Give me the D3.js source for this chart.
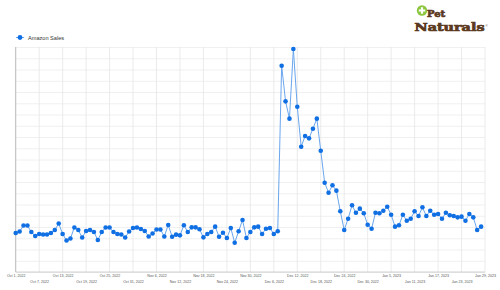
<!DOCTYPE html>
<html>
<head>
<meta charset="utf-8">
<script src="https://cdn.jsdelivr.net/npm/d3@7"></script>
<style>
  body { margin: 0; background: #fff; }
  svg { display: block; font-family: "Liberation Sans", Arial, sans-serif; }
</style>
</head>
<body>
<div id="chart"></div>
<script>
// Daily Amazon sales, Oct 1, 2022 onward (one value per day)
const startDate = "2022-10-01";
const amazonSales = [
    347, 360, 413, 413, 356, 320, 338, 333, 333, 347,
    373, 431, 338, 280, 298, 396, 373, 307, 364, 373,
    356, 284, 356, 396, 396, 356, 338, 333, 307, 360,
    391, 396, 382, 364, 316, 342, 378, 378, 316, 418,
    314, 332, 326, 415, 356, 397, 397, 380, 308, 338,
    356, 403, 314, 349, 302, 391, 260, 362, 462, 302,
    356, 397, 403, 338, 385, 391, 338, 362, 1834, 1517,
    1363, 1982, 1469, 1114, 1209, 1188, 1274, 1363, 1078, 794,
    705, 771, 723, 540, 373, 474, 593, 527, 563, 522,
    420, 385, 527, 522, 545, 580, 509, 403, 415, 509,
    456, 474, 540, 498, 575, 498, 545, 509, 516, 474,
    527, 504, 498, 486, 492, 456, 516, 486, 373, 403
];

// x-axis labels, every 6 days
const tickLabels = [
    "Oct 1, 2022", "Oct 7, 2022", "Oct 13, 2022", "Oct 19, 2022", "Oct 25, 2022",
    "Oct 31, 2022", "Nov 6, 2022", "Nov 12, 2022", "Nov 18, 2022", "Nov 24, 2022",
    "Nov 30, 2022", "Dec 6, 2022", "Dec 12, 2022", "Dec 18, 2022", "Dec 24, 2022",
    "Dec 30, 2022", "Jan 5, 2023", "Jan 11, 2023", "Jan 17, 2023", "Jan 23, 2023",
    "Jan 29, 2023"
];

const seriesName = "Amazon Sales";

function drawChart() {
    const totalWidth = 500;
    const totalHeight = 290;
    const margin = { top: 47, right: 15, bottom: 18, left: 15.7 };
    const width = totalWidth - margin.left - margin.right;
    const height = totalHeight - margin.top - margin.bottom;

    const svg = d3.select("#chart")
        .append("svg")
        .attr("width", totalWidth)
        .attr("height", totalHeight);

    const g = svg.append("g")
        .attr("transform", `translate(${margin.left},${margin.top})`);

    const parseLabel = d3.utcParse("%b %-d, %Y");
    const tickDates = tickLabels.map(parseLabel);
    const start = d3.utcParse("%Y-%m-%d")(startDate);

    const data = amazonSales.map((v, i) => ({ date: d3.utcDay.offset(start, i), value: v }));

    // Scales
    const x = d3.scaleUtc()
        .domain([tickDates[0], tickDates[tickDates.length - 1]])
        .range([0, width]);

    const y = d3.scaleLinear()
        .domain([0, 2000])
        .range([height, 0]);

    // Horizontal gridlines
    g.append("g")
        .selectAll("line")
        .data(y.ticks(20))
        .join("line")
        .attr("x1", 0)
        .attr("x2", width)
        .attr("y1", d => y(d) + 0.5)
        .attr("y2", d => y(d) + 0.5)
        .style("stroke", "#ececec")
        .style("stroke-width", 0.8);

    // Vertical gridlines
    g.append("g")
        .selectAll("line")
        .data(tickDates)
        .join("line")
        .attr("x1", d => x(d))
        .attr("x2", d => x(d))
        .attr("y1", 0)
        .attr("y2", height)
        .style("stroke", "#e6e6e6")
        .style("stroke-width", 0.8);

    // Left and bottom axis lines
    g.append("line")
        .attr("x1", 0).attr("x2", 0)
        .attr("y1", 0).attr("y2", height)
        .style("stroke", "#b0b0b0")
        .style("stroke-width", 0.8);

    g.append("line")
        .attr("x1", 0).attr("x2", width)
        .attr("y1", height).attr("y2", height)
        .style("stroke", "#c4c4c4")
        .style("stroke-width", 0.8);

    // X labels, staggered on two rows
    const xAxis = d3.axisBottom(x)
        .tickValues(tickDates)
        .tickSize(0)
        .tickFormat((d, i) => tickLabels[i]);

    const axisG = g.append("g")
        .attr("transform", `translate(0,${height})`)
        .call(xAxis);
    axisG.select(".domain").remove();
    axisG.selectAll("text")
        .attr("y", (d, i) => i % 2 === 0 ? 4.6 : 11)
        .attr("dy", 0)
        .style("font-family", "'Liberation Sans', Arial, sans-serif")
        .style("font-size", "3.6px")
        .style("fill", "#555");

    // Line
    const line = d3.line()
        .x(d => x(d.date))
        .y(d => y(d.value));

    g.append("path")
        .datum(data)
        .attr("d", line)
        .style("fill", "none")
        .style("stroke", "#6aa6ee")
        .style("stroke-width", 1);

    // Dots
    g.append("g")
        .selectAll("circle")
        .data(data)
        .join("circle")
        .attr("cx", d => x(d.date))
        .attr("cy", d => y(d.value))
        .attr("r", 2.3)
        .style("fill", "#0f6fe3");

    // Legend
    const legend = svg.append("g")
        .attr("transform", "translate(20,37.5)");
    legend.append("line")
        .attr("x1", -4).attr("x2", 4)
        .style("stroke", "#6aa6ee")
        .style("stroke-width", 1);
    legend.append("circle")
        .attr("r", 2.4)
        .style("fill", "#0f6fe3");
    legend.append("text")
        .attr("x", 8)
        .attr("y", 2)
        .style("font-size", "5.6px")
        .style("fill", "#333")
        .text(seriesName);

    // Pet Naturals logo
    const logo = svg.append("g");
    logo.append("circle")
        .attr("cx", 422)
        .attr("cy", 10.5)
        .attr("r", 5.2)
        .style("fill", "#8cc63e");
    logo.append("path")
        .attr("d", "M420.9,7.3h2.2v2.1h2.1v2.2h-2.1v2.1h-2.2v-2.1h-2.1v-2.2h2.1z")
        .style("fill", "#fff");
    logo.append("text")
        .attr("x", 427)
        .attr("y", 17)
        .style("font-family", "'DejaVu Serif', serif")
        .style("font-weight", "bold")
        .style("font-size", "10px")
        .style("fill", "#5b3a1f")
        .style("stroke", "#5b3a1f")
        .style("stroke-width", 0.7)
        .text("Pet");
    logo.append("text")
        .attr("x", 414.5)
        .attr("y", 30.5)
        .attr("textLength", 70)
        .attr("lengthAdjust", "spacingAndGlyphs")
        .style("font-family", "'DejaVu Serif', serif")
        .style("font-weight", "bold")
        .style("font-size", "11px")
        .style("fill", "#5b3a1f")
        .style("stroke", "#5b3a1f")
        .style("stroke-width", 0.7)
        .text("Naturals");
    logo.append("text")
        .attr("x", 485.5)
        .attr("y", 27)
        .style("font-size", "3px")
        .style("fill", "#5b3a1f")
        .text("®");
}

drawChart();
</script>
</body>
</html>
